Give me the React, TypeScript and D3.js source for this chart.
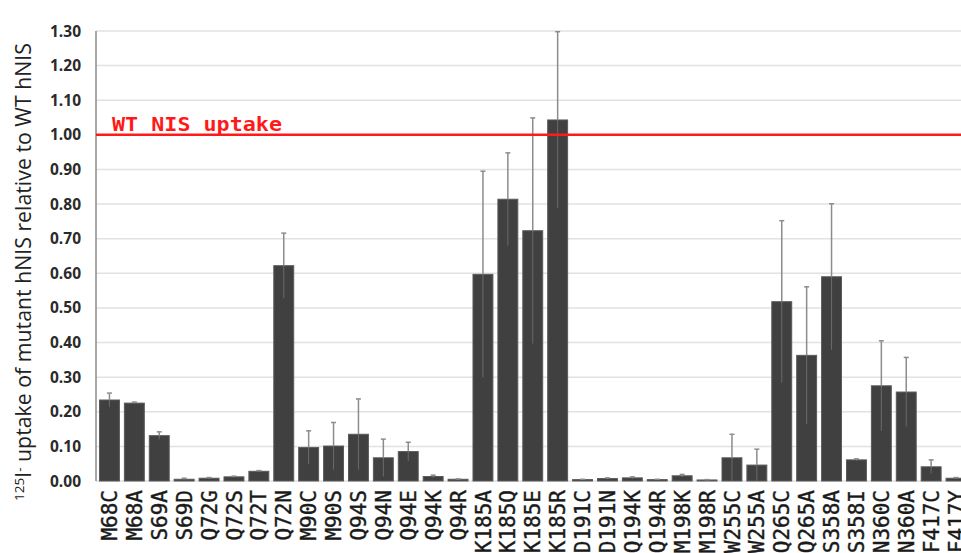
import React from "react";
import * as d3 from "d3";

const categories = ["M68C","M68A","S69A","S69D","Q72G","Q72S","Q72T","Q72N","M90C","M90S","Q94S","Q94N","Q94E","Q94K","Q94R","K185A","K185Q","K185E","K185R","D191C","D191N","Q194K","Q194R","M198K","M198R","W255C","W255A","Q265C","Q265A","S358A","S358I","N360C","N360A","F417C","F417Y"];
const values = [0.234,0.225,0.131,0.005,0.008,0.012,0.028,0.622,0.097,0.101,0.135,0.067,0.085,0.013,0.005,0.597,0.814,0.723,1.043,0.004,0.007,0.009,0.004,0.015,0.003,0.067,0.046,0.518,0.363,0.590,0.061,0.275,0.257,0.041,0.008];
const errors = [0.020,0.003,0.011,0.003,0.002,0.002,0.002,0.094,0.048,0.068,0.102,0.054,0.027,0.004,0.001,0.298,0.134,0.326,0.255,0.001,0.002,0.003,0.001,0.004,0.001,0.068,0.046,0.234,0.198,0.211,0.003,0.130,0.100,0.020,0.002];
const yTicks = [0,0.1,0.2,0.3,0.4,0.5,0.6,0.7,0.8,0.9,1.0,1.1,1.2,1.3];
const refValue = 1.0;
const refLabel = "WT NIS uptake";

export default function App() {
  const W = 961, H = 553;
  const left = 97, step = 24.9;
  const x = d3.scaleBand<string>().domain(categories).range([left, left + step * categories.length]).paddingInner(0.2).paddingOuter(0.1);
  const y = d3.scaleLinear().domain([0, 1.3]).range([481, 31]);
  const bw = x.bandwidth();
  return (
    <svg width={W} height={H} style={{ position: "absolute", left: 0, top: 0, background: "#fff" }}>
      <rect x={0} y={0} width={W} height={H} fill="#fff" />
      {yTicks.map((t) => (
        <g key={t}>
          <line x1={96} x2={W} y1={y(t)} y2={y(t)} stroke="#e2e2e2" strokeWidth={1.5} />
          <text x={81} y={y(t) + 5.5} textAnchor="end" fontFamily="'Open Sans', sans-serif" fontWeight="bold" fontSize={15.5} fill="#2a2a2a">{d3.format(".2f")(t)}</text>
        </g>
      ))}
      <line x1={96} x2={96} y1={y(1.3)} y2={y(0)} stroke="#8a8a8a" strokeWidth={1.5} />
      {categories.map((c, i) => {
        const cx = (x(c) as number) + bw / 2;
        const v = values[i], e = errors[i];
        return (
          <g key={c}>
            <rect x={x(c)} y={y(v)} width={bw} height={y(0) - y(v)} fill="#404040" stroke="#5a5a5a" strokeWidth={1} />
            <line x1={cx} x2={cx} y1={y(v + e)} y2={y(v)} stroke="#8c8c8c" strokeWidth={1.5} />
            <line x1={cx} x2={cx} y1={y(v)} y2={y(Math.max(0, v - e))} stroke="#6a6a6a" strokeWidth={1} />
            <line x1={cx - 2.5} x2={cx + 2.5} y1={y(v + e)} y2={y(v + e)} stroke="#8c8c8c" strokeWidth={1.5} />
            <text transform={`translate(${cx},490) rotate(-90)`} dy="0.36em" textAnchor="end" fontFamily="'DejaVu Sans Mono', monospace" fontSize={21} fill="#1a1a1a" stroke="#1a1a1a" strokeWidth={0.4}>{c}</text>
          </g>
        );
      })}
      <line x1={96} x2={W} y1={y(refValue)} y2={y(refValue)} stroke="#ff1a1a" strokeWidth={2.5} />
      <text x={112} y={y(refValue) - 4} fontFamily="'DejaVu Sans Mono', monospace" fontWeight="bold" fontSize={20} fill="#ff1a1a" textLength={170} lengthAdjust="spacingAndGlyphs">{refLabel}</text>
      <text transform="translate(31,272) rotate(-90)" textAnchor="middle" fontFamily="'Open Sans', sans-serif" fontSize={21.3} fill="#222">
        <tspan fontSize={13.5} dy="-7">125</tspan>
        <tspan dy="7">I</tspan>
        <tspan fontSize={13.5} dy="-7">-</tspan>
        <tspan dy="7"> uptake of mutant hNIS relative to WT hNIS</tspan>
      </text>
    </svg>
  );
}
